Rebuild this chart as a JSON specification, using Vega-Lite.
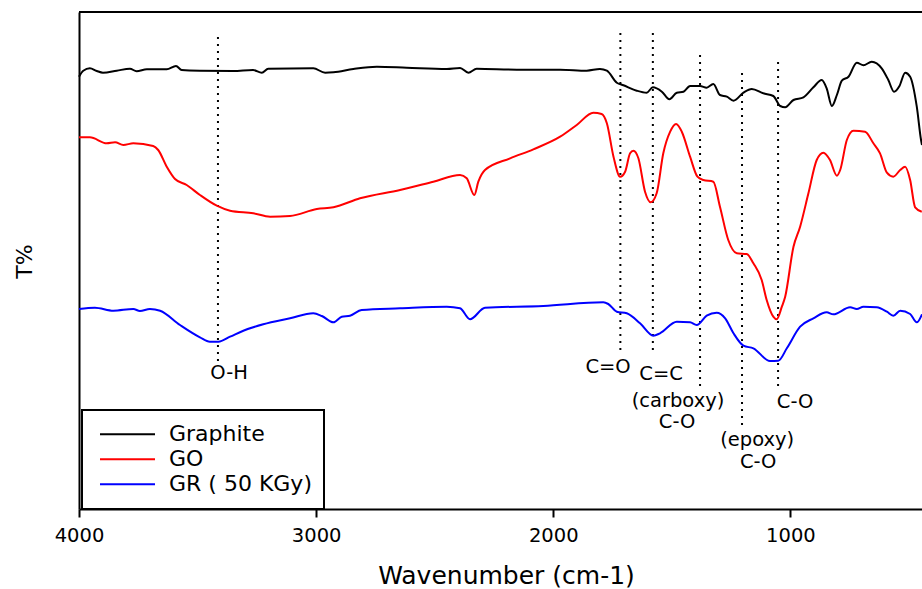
{
  "$schema": "https://vega.github.io/schema/vega-lite/v6.json",
  "width": 843,
  "height": 497,
  "autosize": {"type": "none"},
  "padding": {"left": 79, "top": 12, "right": 0, "bottom": 80},
  "background": "white",
  "config": {
    "view": {"stroke": null},
    "font": "DejaVu Sans",
    "legend": {"strokeWidth": 2}
  },
  "datasets": {
    "spectra": [
      {"sample":"Graphite","wn":4000,"t":432.3},{"sample":"Graphite","wn":3982,"t":438.3},{"sample":"Graphite","wn":3954,"t":440.7},{"sample":"Graphite","wn":3925,"t":438},{"sample":"Graphite","wn":3899,"t":436.3},{"sample":"Graphite","wn":3841,"t":438.3},{"sample":"Graphite","wn":3785,"t":440.3},{"sample":"Graphite","wn":3757,"t":437.7},{"sample":"Graphite","wn":3714,"t":439.7},{"sample":"Graphite","wn":3630,"t":439.7},{"sample":"Graphite","wn":3591,"t":443},{"sample":"Graphite","wn":3567,"t":439},{"sample":"Graphite","wn":3490,"t":438.3},{"sample":"Graphite","wn":3350,"t":438},{"sample":"Graphite","wn":3266,"t":439},{"sample":"Graphite","wn":3229,"t":436.3},{"sample":"Graphite","wn":3202,"t":440.3},{"sample":"Graphite","wn":3012,"t":440.7},{"sample":"Graphite","wn":2962,"t":436.3},{"sample":"Graphite","wn":2927,"t":436.7},{"sample":"Graphite","wn":2843,"t":440},{"sample":"Graphite","wn":2744,"t":442.3},{"sample":"Graphite","wn":2618,"t":441.3},{"sample":"Graphite","wn":2449,"t":440},{"sample":"Graphite","wn":2393,"t":441},{"sample":"Graphite","wn":2358,"t":436.3},{"sample":"Graphite","wn":2323,"t":440.3},{"sample":"Graphite","wn":2154,"t":439.3},{"sample":"Graphite","wn":1971,"t":439.3},{"sample":"Graphite","wn":1859,"t":438.3},{"sample":"Graphite","wn":1803,"t":440},{"sample":"Graphite","wn":1774,"t":438.3},{"sample":"Graphite","wn":1732,"t":426.3},{"sample":"Graphite","wn":1704,"t":423.7},{"sample":"Graphite","wn":1648,"t":418.3},{"sample":"Graphite","wn":1606,"t":416.3},{"sample":"Graphite","wn":1580,"t":421.7},{"sample":"Graphite","wn":1542,"t":417.3},{"sample":"Graphite","wn":1510,"t":409.7},{"sample":"Graphite","wn":1479,"t":416.3},{"sample":"Graphite","wn":1451,"t":417.3},{"sample":"Graphite","wn":1423,"t":423},{"sample":"Graphite","wn":1381,"t":423},{"sample":"Graphite","wn":1353,"t":421.3},{"sample":"Graphite","wn":1325,"t":425},{"sample":"Graphite","wn":1297,"t":414},{"sample":"Graphite","wn":1268,"t":412.3},{"sample":"Graphite","wn":1240,"t":408.3},{"sample":"Graphite","wn":1198,"t":416.3},{"sample":"Graphite","wn":1163,"t":420},{"sample":"Graphite","wn":1114,"t":415.7},{"sample":"Graphite","wn":1072,"t":413},{"sample":"Graphite","wn":1043,"t":403},{"sample":"Graphite","wn":1022,"t":401.7},{"sample":"Graphite","wn":987,"t":409},{"sample":"Graphite","wn":945,"t":411.7},{"sample":"Graphite","wn":903,"t":421.7},{"sample":"Graphite","wn":868,"t":429},{"sample":"Graphite","wn":847,"t":420.7},{"sample":"Graphite","wn":825,"t":403},{"sample":"Graphite","wn":804,"t":414},{"sample":"Graphite","wn":783,"t":428.3},{"sample":"Graphite","wn":755,"t":432.3},{"sample":"Graphite","wn":720,"t":446.3},{"sample":"Graphite","wn":692,"t":443.7},{"sample":"Graphite","wn":657,"t":447.3},{"sample":"Graphite","wn":615,"t":440.7},{"sample":"Graphite","wn":587,"t":429},{"sample":"Graphite","wn":563,"t":417.3},{"sample":"Graphite","wn":540,"t":423},{"sample":"Graphite","wn":516,"t":436.3},{"sample":"Graphite","wn":495,"t":432.3},{"sample":"Graphite","wn":467,"t":402.3},{"sample":"Graphite","wn":449,"t":369},{"sample":"Graphite","wn":445,"t":364},

      {"sample":"GO","wn":4000,"t":371.7},{"sample":"GO","wn":3954,"t":371.7},{"sample":"GO","wn":3883,"t":365.7},{"sample":"GO","wn":3848,"t":366.7},{"sample":"GO","wn":3813,"t":364},{"sample":"GO","wn":3771,"t":365.7},{"sample":"GO","wn":3687,"t":363},{"sample":"GO","wn":3666,"t":359},{"sample":"GO","wn":3630,"t":342.3},{"sample":"GO","wn":3595,"t":330},{"sample":"GO","wn":3546,"t":324},{"sample":"GO","wn":3490,"t":314},{"sample":"GO","wn":3419,"t":303.3},{"sample":"GO","wn":3363,"t":298.3},{"sample":"GO","wn":3265,"t":295.7},{"sample":"GO","wn":3194,"t":292.3},{"sample":"GO","wn":3110,"t":293},{"sample":"GO","wn":2997,"t":300},{"sample":"GO","wn":2927,"t":301.7},{"sample":"GO","wn":2815,"t":310.7},{"sample":"GO","wn":2646,"t":319},{"sample":"GO","wn":2506,"t":327.3},{"sample":"GO","wn":2393,"t":334},{"sample":"GO","wn":2365,"t":330.7},{"sample":"GO","wn":2333,"t":314},{"sample":"GO","wn":2316,"t":327.3},{"sample":"GO","wn":2288,"t":339},{"sample":"GO","wn":2182,"t":350.7},{"sample":"GO","wn":2084,"t":359.7},{"sample":"GO","wn":1971,"t":372.3},{"sample":"GO","wn":1901,"t":384},{"sample":"GO","wn":1831,"t":396.3},{"sample":"GO","wn":1796,"t":395},{"sample":"GO","wn":1774,"t":385.7},{"sample":"GO","wn":1746,"t":352.3},{"sample":"GO","wn":1718,"t":332.3},{"sample":"GO","wn":1697,"t":337.3},{"sample":"GO","wn":1676,"t":355.7},{"sample":"GO","wn":1662,"t":358.3},{"sample":"GO","wn":1641,"t":350.7},{"sample":"GO","wn":1613,"t":317.3},{"sample":"GO","wn":1589,"t":306.7},{"sample":"GO","wn":1564,"t":315.7},{"sample":"GO","wn":1536,"t":355.7},{"sample":"GO","wn":1507,"t":377.3},{"sample":"GO","wn":1482,"t":385},{"sample":"GO","wn":1458,"t":377.3},{"sample":"GO","wn":1423,"t":352.3},{"sample":"GO","wn":1392,"t":332.3},{"sample":"GO","wn":1367,"t":329},{"sample":"GO","wn":1325,"t":327.3},{"sample":"GO","wn":1297,"t":302.3},{"sample":"GO","wn":1262,"t":269},{"sample":"GO","wn":1226,"t":255.7},{"sample":"GO","wn":1184,"t":255},{"sample":"GO","wn":1156,"t":245.7},{"sample":"GO","wn":1121,"t":229},{"sample":"GO","wn":1100,"t":209},{"sample":"GO","wn":1072,"t":192.3},{"sample":"GO","wn":1058,"t":189.7},{"sample":"GO","wn":1036,"t":202.3},{"sample":"GO","wn":1022,"t":212.3},{"sample":"GO","wn":987,"t":262.3},{"sample":"GO","wn":959,"t":282.3},{"sample":"GO","wn":924,"t":315.7},{"sample":"GO","wn":889,"t":349},{"sample":"GO","wn":861,"t":356.3},{"sample":"GO","wn":833,"t":349},{"sample":"GO","wn":804,"t":333.3},{"sample":"GO","wn":790,"t":339},{"sample":"GO","wn":762,"t":369},{"sample":"GO","wn":734,"t":378.3},{"sample":"GO","wn":685,"t":377.3},{"sample":"GO","wn":650,"t":365.7},{"sample":"GO","wn":622,"t":355.7},{"sample":"GO","wn":593,"t":336.3},{"sample":"GO","wn":566,"t":332.3},{"sample":"GO","wn":537,"t":339},{"sample":"GO","wn":516,"t":342.3},{"sample":"GO","wn":495,"t":329},{"sample":"GO","wn":474,"t":301.7},{"sample":"GO","wn":446,"t":297.3},

      {"sample":"GR ( 50 KGy)","wn":4000,"t":200},{"sample":"GR ( 50 KGy)","wn":3933,"t":201.3},{"sample":"GR ( 50 KGy)","wn":3855,"t":198.3},{"sample":"GR ( 50 KGy)","wn":3771,"t":200},{"sample":"GR ( 50 KGy)","wn":3743,"t":198},{"sample":"GR ( 50 KGy)","wn":3701,"t":200},{"sample":"GR ( 50 KGy)","wn":3658,"t":198.3},{"sample":"GR ( 50 KGy)","wn":3574,"t":184},{"sample":"GR ( 50 KGy)","wn":3490,"t":171.7},{"sample":"GR ( 50 KGy)","wn":3448,"t":167.3},{"sample":"GR ( 50 KGy)","wn":3412,"t":167.3},{"sample":"GR ( 50 KGy)","wn":3363,"t":172.3},{"sample":"GR ( 50 KGy)","wn":3307,"t":178.3},{"sample":"GR ( 50 KGy)","wn":3223,"t":184.7},{"sample":"GR ( 50 KGy)","wn":3110,"t":190.7},{"sample":"GR ( 50 KGy)","wn":3012,"t":195.7},{"sample":"GR ( 50 KGy)","wn":2976,"t":193},{"sample":"GR ( 50 KGy)","wn":2927,"t":186.7},{"sample":"GR ( 50 KGy)","wn":2892,"t":192.3},{"sample":"GR ( 50 KGy)","wn":2857,"t":193.3},{"sample":"GR ( 50 KGy)","wn":2808,"t":199},{"sample":"GR ( 50 KGy)","wn":2646,"t":200.7},{"sample":"GR ( 50 KGy)","wn":2449,"t":202.3},{"sample":"GR ( 50 KGy)","wn":2393,"t":200.7},{"sample":"GR ( 50 KGy)","wn":2351,"t":189.7},{"sample":"GR ( 50 KGy)","wn":2288,"t":201.3},{"sample":"GR ( 50 KGy)","wn":2042,"t":203},{"sample":"GR ( 50 KGy)","wn":1789,"t":206.7},{"sample":"GR ( 50 KGy)","wn":1768,"t":205},{"sample":"GR ( 50 KGy)","wn":1732,"t":197.3},{"sample":"GR ( 50 KGy)","wn":1690,"t":195.7},{"sample":"GR ( 50 KGy)","wn":1634,"t":185.7},{"sample":"GR ( 50 KGy)","wn":1578,"t":173.3},{"sample":"GR ( 50 KGy)","wn":1550,"t":175.7},{"sample":"GR ( 50 KGy)","wn":1479,"t":187.3},{"sample":"GR ( 50 KGy)","wn":1423,"t":186.7},{"sample":"GR ( 50 KGy)","wn":1395,"t":184},{"sample":"GR ( 50 KGy)","wn":1353,"t":193.3},{"sample":"GR ( 50 KGy)","wn":1311,"t":196.3},{"sample":"GR ( 50 KGy)","wn":1275,"t":190.7},{"sample":"GR ( 50 KGy)","wn":1240,"t":175.7},{"sample":"GR ( 50 KGy)","wn":1198,"t":163.3},{"sample":"GR ( 50 KGy)","wn":1156,"t":160.7},{"sample":"GR ( 50 KGy)","wn":1086,"t":148},{"sample":"GR ( 50 KGy)","wn":1051,"t":148.3},{"sample":"GR ( 50 KGy)","wn":1015,"t":160.7},{"sample":"GR ( 50 KGy)","wn":959,"t":182.3},{"sample":"GR ( 50 KGy)","wn":903,"t":190.7},{"sample":"GR ( 50 KGy)","wn":847,"t":196.7},{"sample":"GR ( 50 KGy)","wn":819,"t":194.7},{"sample":"GR ( 50 KGy)","wn":748,"t":201.7},{"sample":"GR ( 50 KGy)","wn":720,"t":200},{"sample":"GR ( 50 KGy)","wn":692,"t":202.3},{"sample":"GR ( 50 KGy)","wn":636,"t":201.7},{"sample":"GR ( 50 KGy)","wn":593,"t":197.3},{"sample":"GR ( 50 KGy)","wn":566,"t":193.3},{"sample":"GR ( 50 KGy)","wn":537,"t":198.3},{"sample":"GR ( 50 KGy)","wn":495,"t":195},{"sample":"GR ( 50 KGy)","wn":467,"t":186.7},{"sample":"GR ( 50 KGy)","wn":445,"t":194.7}
    ],
    "peaks": [
      {"wn":3414,"top":472,"bottom":146},
      {"wn":1717,"top":476,"bottom":159},
      {"wn":1580,"top":476,"bottom":154},
      {"wn":1381,"top":454,"bottom":122},
      {"wn":1204,"top":436,"bottom":84},
      {"wn":1052,"top":447,"bottom":122}
    ],
    "notes": [
      {"wn":3367,"t":130,"text":"O-H"},
      {"wn":1769,"t":136,"text":"C=O"},
      {"wn":1545,"t":129,"text":"C=C"},
      {"wn":1474,"t":102,"text":"(carboxy)"},
      {"wn":1478,"t":81,"text":"C-O"},
      {"wn":1140,"t":63,"text":"(epoxy)"},
      {"wn":1136,"t":41,"text":"C-O"},
      {"wn":980,"t":101,"text":"C-O"}
    ]
  },
  "layer": [
    {
      "data": {"name": "peaks"},
      "mark": {"type": "rule", "color": "black", "strokeWidth": 2, "strokeDash": [2, 5]},
      "encoding": {
        "x": {"field": "wn", "type": "quantitative", "scale": {"domain": [445, 4000], "reverse": true, "nice": false, "zero": false},
          "axis": {"title": "Wavenumber (cm-1)", "values": [1000, 2000, 3000, 4000], "format": "d", "grid": false,
            "labelFont": "DejaVu Sans", "labelFontSize": 19.5, "labelColor": "black", "labelFlush": false, "labelOverlap": false, "labelPadding": 9,
            "tickSize": 8, "tickWidth": 2, "tickColor": "black", "domainColor": "black", "domainWidth": 2,
            "titleFont": "DejaVu Sans", "titleFontSize": 25, "titleFontWeight": "normal", "titleColor": "black",
            "titleX": 427, "titleY": 74, "titleAlign": "center", "titleBaseline": "alphabetic"}},
        "y": {"field": "top", "type": "quantitative", "scale": {"domain": [0, 497], "nice": false, "zero": false},
          "axis": {"title": "T%", "labels": false, "ticks": false, "grid": false, "domainColor": "black", "domainWidth": 2,
            "titleFont": "DejaVu Sans", "titleFontSize": 22, "titleFontWeight": "normal", "titleColor": "black",
            "titleX": -48, "titleY": 249, "titleAngle": 270, "titleAlign": "center", "titleBaseline": "alphabetic"}},
        "y2": {"field": "bottom"}
      }
    },
    {
      "data": {"values": [{}]},
      "mark": {"type": "rule", "color": "black", "strokeWidth": 2},
      "encoding": {"y": {"datum": 497, "type": "quantitative"}}
    },
    {
      "data": {"name": "spectra"},
      "mark": {"type": "line", "strokeWidth": 2, "interpolate": "monotone"},
      "encoding": {
        "x": {"field": "wn", "type": "quantitative"},
        "y": {"field": "t", "type": "quantitative"},
        "color": {"field": "sample", "type": "nominal",
          "scale": {"domain": ["Graphite", "GO", "GR ( 50 KGy)"], "range": ["#000000", "#ff0000", "#0000ff"]},
          "legend": {"title": null, "orient": "none", "legendX": 3, "legendY": 398,
            "strokeColor": "black", "fillColor": "white", "padding": 12,
            "symbolType": "stroke", "symbolSize": 3025, "symbolStrokeWidth": 2, "symbolOffset": 5,
            "clipHeight": 24.5, "rowPadding": 0, "labelOffset": 13,
            "labelFont": "DejaVu Sans", "labelFontSize": 22, "labelColor": "black", "labelLimit": 400}}
      }
    },
    {
      "data": {"name": "notes"},
      "mark": {"type": "text", "font": "DejaVu Sans", "fontSize": 19.5, "color": "black", "align": "center", "baseline": "alphabetic"},
      "encoding": {
        "x": {"field": "wn", "type": "quantitative"},
        "y": {"field": "t", "type": "quantitative"},
        "text": {"field": "text"}
      }
    }
  ]
}
